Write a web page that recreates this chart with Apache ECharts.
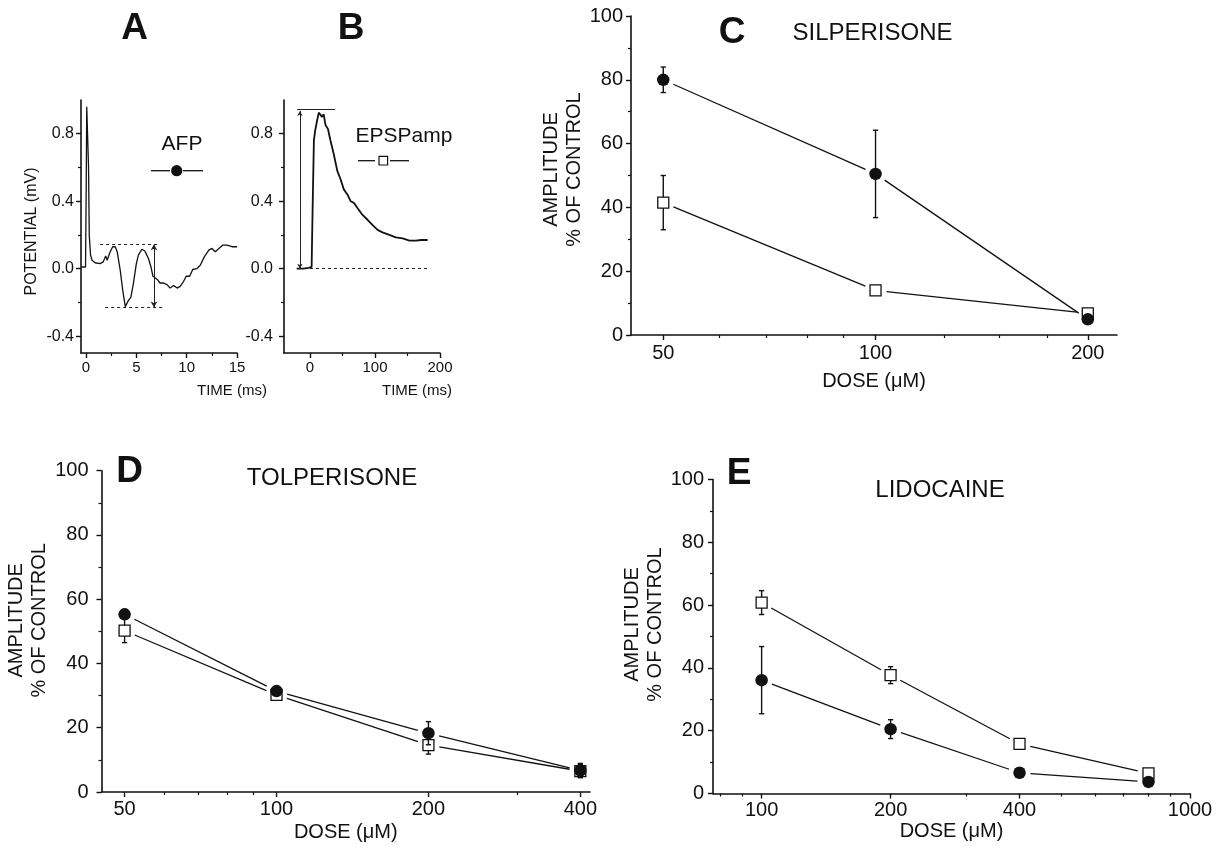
<!DOCTYPE html>
<html>
<head>
<meta charset="utf-8">
<script src="https://cdn.jsdelivr.net/npm/echarts@6/dist/echarts.min.js"></script>
<style>
  html, body { margin: 0; padding: 0; background: #fff; }
  #chart { width: 1219px; height: 847px; }
</style>
</head>
<body>
<div id="chart"></div>
<script>
// ---------- Panel A: field potential trace (time in ms, potential in mV) ----------
const afpTime = [-0.45, -0.05, 0.02, 0.07, 0.18, 0.25, 0.32, 0.45, 0.6, 0.9, 1.4, 1.7, 1.85, 1.95, 2.1, 2.4, 2.65, 2.9, 3.1, 3.4,
  3.65, 3.9, 4.05, 4.2, 4.45, 4.7, 5.0, 5.2, 5.55, 5.85, 6.2, 6.45, 6.65, 6.9, 7.1, 7.35, 7.7, 8.05, 8.35, 8.7,
  9.05, 9.35, 9.7, 9.95, 10.3, 10.6, 11.0, 11.35, 11.75, 12.2, 12.5, 12.85, 13.2, 13.6, 14.0, 14.5, 15.0];
const afpMv = [0.01, 0.01, 0.5, 0.96, 0.96, 0.6, 0.2, 0.08, 0.05, 0.035, 0.03, 0.04, 0.06, 0.075, 0.05, 0.10, 0.13, 0.13, 0.10, -0.01,
  -0.13, -0.225, -0.23, -0.19, -0.17, -0.09, 0.03, 0.08, 0.115, 0.105, 0.06, 0.01, -0.045, -0.055, -0.065, -0.085, -0.085, -0.095, -0.115, -0.10,
  -0.115, -0.105, -0.075, -0.045, -0.045, -0.005, 0.0, 0.02, 0.07, 0.11, 0.12, 0.10, 0.12, 0.14, 0.14, 0.13, 0.13];

// ---------- Panel B: EPSP trace ----------
const epspTime = [-20.5, -10, -2, 2.5, 4, 6, 8, 11, 13.5, 16, 18.5, 21, 24, 27.5, 31.5, 36.5, 42, 47, 52, 57.5,
  62.5, 67.5, 73, 80.5, 88.5, 96, 104, 111.5, 122, 132, 142.5, 153, 163, 171, 181];
const epspMv = [0, 0, 0.005, 0.01, 0.35, 0.76, 0.82, 0.88, 0.925, 0.935, 0.9, 0.915, 0.85, 0.83, 0.76, 0.68, 0.58, 0.53, 0.47, 0.44,
  0.40, 0.39, 0.36, 0.32, 0.29, 0.26, 0.23, 0.215, 0.2, 0.186, 0.18, 0.166, 0.166, 0.17, 0.17];

// ---------- Panels C-E: dose-response, % of control (mean and error) ----------
const silDose = [50, 100, 200];
const silAfp = [80, 50.5, 4.9];
const silAfpErr = [4, 13.7, 0.8];
const silEpsp = [41.5, 14, 6.8];
const silEpspErr = [8.5, 1.5, 0.8];

const tolDose = [50, 100, 200, 400];
const tolAfp = [55.3, 31.4, 18.3, 6.7];
const tolAfpErr = [1.5, 1, 3.6, 2.2];
const tolEpsp = [50.2, 30.2, 14.6, 6.5];
const tolEpspErr = [3.7, 1, 2.8, 2];

const lidDose = [100, 200, 400, 800];
const lidAfp = [36.1, 20.5, 6.6, 3.7];
const lidAfpErr = [10.7, 3, 1.5, 1.2];
const lidEpsp = [60.8, 37.7, 15.8, 6.4];
const lidEpspErr = [3.8, 2.7, 1.5, 1.2];

// ---------- tick labels ----------
const mvTicks = [-0.4, 0, 0.4, 0.8];
const mvMinor = [-0.2, 0.2, 0.6];
const timeTicksA = [0, 5, 10, 15];
const timeMinorA = [2.5, 7.5, 12.5];
const timeTicksB = [0, 100, 200];
const timeMinorB = [50, 150];
const doseTicksC = [50, 100, 200];
const doseMinorC = [60, 70, 80, 90, 125, 150, 175];
const doseTicksD = [50, 100, 200, 400];
const doseMinorD = [60, 70, 80, 90, 300];
const doseTicksE = [100, 200, 400, 1000];
const doseMinorE = [80, 90, 300, 500, 600, 700, 800, 900];

const FONT = '"Liberation Sans", Arial, Helvetica, sans-serif';
const INK = '#111';
const lg = Math.log10;
const GAP = 11;            // blank space left between a connecting line and a marker centre

// ---------- axis builders ----------
function xPair(grid, min, max, major, minor, fmt, fs, margin, extra) {
  const main = Object.assign({
    type: 'value', gridIndex: grid, min: min, max: max, position: 'bottom',
    axisLine: { show: true, onZero: false, lineStyle: { color: INK, width: 1.6 } },
    axisTick: { show: true, customValues: major, length: 5, lineStyle: { color: INK, width: 1.4 } },
    axisLabel: { show: true, customValues: major, formatter: fmt, fontSize: fs, margin: margin, color: INK, fontFamily: FONT },
    splitLine: { show: false }
  }, extra || {});
  const sub = {
    type: 'value', gridIndex: grid, min: min, max: max, position: 'bottom',
    axisLine: { show: false, onZero: false },
    axisTick: { show: true, customValues: minor, length: 3, lineStyle: { color: INK, width: 1.2 } },
    axisLabel: { show: false },
    splitLine: { show: false }
  };
  return [main, sub];
}

function yTracePair(grid, margin, name) {
  const main = {
    type: 'value', gridIndex: grid, min: -0.5, max: 1.0, position: 'left',
    axisLine: { show: true, onZero: false, lineStyle: { color: INK, width: 1.6 } },
    axisTick: { show: true, customValues: mvTicks, length: 5, lineStyle: { color: INK, width: 1.4 } },
    axisLabel: { show: true, customValues: mvTicks, formatter: v => v.toFixed(1), fontSize: 16, margin: margin, color: INK, fontFamily: FONT },
    splitLine: { show: false }
  };
  if (name) {
    Object.assign(main, {
      name: name, nameLocation: 'middle', nameRotate: 90, nameGap: 41,
      nameTextStyle: { fontSize: 16, color: INK, fontFamily: FONT, padding: [0, 10, 0, 0] }
    });
  }
  const sub = {
    type: 'value', gridIndex: grid, min: -0.5, max: 1.0, position: 'left',
    axisLine: { show: false, onZero: false },
    axisTick: { show: true, customValues: mvMinor, length: 3, lineStyle: { color: INK, width: 1.2 } },
    axisLabel: { show: false },
    splitLine: { show: false }
  };
  return [main, sub];
}

function yDosePair(grid, margin, lift) {
  const main = {
    type: 'value', gridIndex: grid, min: 0, max: 100, interval: 20, position: 'left',
    axisLine: { show: true, onZero: false, lineStyle: { color: INK, width: 1.6 } },
    axisTick: { show: true, length: 5, lineStyle: { color: INK, width: 1.4 } },
    minorTick: { show: true, splitNumber: 2, length: 3, lineStyle: { color: INK, width: 1.2 } },
    axisLabel: { fontSize: 20, margin: margin, color: INK, fontFamily: FONT },
    splitLine: { show: false }, minorSplitLine: { show: false },
    name: 'AMPLITUDE\n% OF CONTROL', nameLocation: 'middle', nameRotate: 90, nameGap: 44,
    nameTextStyle: { fontSize: 20, lineHeight: 23, color: INK, fontFamily: FONT, padding: [0, 0, 0, lift] }
  };
  const unused = { type: 'value', gridIndex: grid, min: 0, max: 100, show: false };
  return [main, unused];
}

const doseFmt = v => String(Math.round(Math.pow(10, v)));
function doseName(gap) {
  return {
    name: 'DOSE (\u03bcM)', nameLocation: 'middle', nameGap: gap,
    nameTextStyle: { fontSize: 20, color: INK, fontFamily: FONT }
  };
}

const xAxes = [].concat(
  xPair(0, -0.5, 15, timeTicksA, timeMinorA, v => String(v), 15, 7),
  xPair(1, -40, 200, timeTicksB, timeMinorB, v => String(v), 15, 7),
  xPair(2, lg(45), lg(220), doseTicksC.map(lg), doseMinorC.map(lg), doseFmt, 20, 8, doseName(36)),
  xPair(3, lg(45), lg(418), doseTicksD.map(lg), doseMinorD.map(lg), doseFmt, 20, 7, doseName(30)),
  xPair(4, lg(77), lg(1000), doseTicksE.map(lg), doseMinorE.map(lg), doseFmt, 20, 7, doseName(28))
);
const yAxes = [].concat(
  yTracePair(0, 7, 'POTENTIAL (mV)'),
  yTracePair(1, 11, null),
  yDosePair(2, 8, 12),
  yDosePair(3, 13, 22),
  yDosePair(4, 9, 24)
);

// ---------- dose-response series: connecting segments, error bars, markers ----------
function segRender(params, api) {
  const p1 = api.coord([api.value(0), api.value(1)]);
  const p2 = api.coord([api.value(2), api.value(3)]);
  const dx = p2[0] - p1[0], dy = p2[1] - p1[1];
  const L = Math.hypot(dx, dy);
  if (L <= 2 * GAP) return null;
  const ux = dx / L, uy = dy / L;
  return {
    type: 'line',
    shape: { x1: p1[0] + ux * GAP, y1: p1[1] + uy * GAP, x2: p2[0] - ux * GAP, y2: p2[1] - uy * GAP },
    style: { stroke: INK, lineWidth: 1.3 }
  };
}
function errRender(params, api) {
  const x = api.value(0), y = api.value(1), e = api.value(2);
  const top = api.coord([x, y + e]);
  const bot = api.coord([x, y - e]);
  const cw = 2.6;
  const st = { stroke: INK, lineWidth: 1.4 };
  return {
    type: 'group',
    children: [
      { type: 'line', shape: { x1: top[0], y1: top[1], x2: bot[0], y2: bot[1] }, style: st },
      { type: 'line', shape: { x1: top[0] - cw, y1: top[1], x2: top[0] + cw, y2: top[1] }, style: st },
      { type: 'line', shape: { x1: bot[0] - cw, y1: bot[1], x2: bot[0] + cw, y2: bot[1] }, style: st }
    ]
  };
}

function doseSeries(grid, doses, vals, errs, kind) {
  const xs = doses.map(lg);
  const pts = xs.map((x, i) => [x, vals[i], errs[i]]);
  const segs = [];
  for (let i = 0; i < xs.length - 1; i++) segs.push([xs[i], vals[i], xs[i + 1], vals[i + 1]]);
  const ax = { xAxisIndex: 2 * grid, yAxisIndex: 2 * grid };
  const filled = kind === 'circle';
  return [
    Object.assign({ type: 'custom', z: 2, silent: true, clip: false, data: segs,
      encode: { x: [0, 2], y: [1, 3] }, renderItem: segRender }, ax),
    Object.assign({ type: 'custom', z: filled ? 5 : 3, silent: true, clip: false, data: pts,
      encode: { x: 0, y: 1 }, renderItem: errRender }, ax),
    Object.assign({ type: 'scatter', z: filled ? 6 : 4, silent: true,
      data: pts.map(p => [p[0], p[1]]),
      symbol: filled ? 'circle' : 'rect', symbolSize: filled ? 12.5 : 11,
      itemStyle: filled ? { color: INK, opacity: 1 } : { color: '#fff', borderColor: INK, borderWidth: 1.3, opacity: 1 }
    }, ax)
  ];
}

// ---------- trace series with measurement marks ----------
const traceA = {
  type: 'line', xAxisIndex: 0, yAxisIndex: 0, showSymbol: false, silent: true, smooth: false,
  data: afpTime.map((t, i) => [t, afpMv[i]]),
  lineStyle: { color: INK, width: 1.3 },
  markLine: {
    silent: true, symbol: 'none', label: { show: false }, animation: false,
    lineStyle: { color: '#222', width: 1, type: [3, 3] },
    data: [
      [{ coord: [1.4, 0.145] }, { coord: [7.25, 0.145] }],
      [{ coord: [1.9, -0.23] }, { coord: [7.6, -0.23] }],
      [{ coord: [6.75, 0.145], symbol: 'arrow', symbolSize: [5, 6], lineStyle: { type: 'solid' } },
       { coord: [6.75, -0.23], symbol: 'arrow', symbolSize: [5, 6] }]
    ]
  }
};
const traceB = {
  type: 'line', xAxisIndex: 2, yAxisIndex: 2, showSymbol: false, silent: true,
  data: epspTime.map((t, i) => [t, epspMv[i]]),
  lineStyle: { color: INK, width: 1.8 },
  markLine: {
    silent: true, symbol: 'none', label: { show: false }, animation: false,
    lineStyle: { color: '#222', width: 1, type: [3, 3] },
    data: [
      [{ coord: [-19.6, 0.945], lineStyle: { type: 'solid' } }, { coord: [38.8, 0.945] }],
      [{ coord: [-15.5, 0.0], symbol: 'arrow', symbolSize: [4, 5], lineStyle: { type: 'solid' } },
       { coord: [-15.5, 0.935], symbol: 'arrow', symbolSize: [4, 5] }],
      [{ coord: [0, 0] }, { coord: [180, 0] }]
    ]
  }
};

const series = [traceA, traceB].concat(
  doseSeries(2, silDose, silEpsp, silEpspErr, 'square'),
  doseSeries(2, silDose, silAfp, silAfpErr, 'circle'),
  doseSeries(3, tolDose, tolEpsp, tolEpspErr, 'square'),
  doseSeries(3, tolDose, tolAfp, tolAfpErr, 'circle'),
  doseSeries(4, lidDose, lidEpsp, lidEpspErr, 'square'),
  doseSeries(4, lidDose, lidAfp, lidAfpErr, 'circle')
);

// ---------- text and legend keys ----------
function txt(x, y, s, size, weight, align) {
  return {
    type: 'text', x: x, y: y, silent: true, z: 10,
    style: { text: s, fontSize: size, fontWeight: weight || 'normal', fontFamily: FONT, fill: INK,
      align: align || 'center', verticalAlign: 'middle' }
  };
}
function hline(x1, x2, y) {
  return { type: 'line', silent: true, z: 10, shape: { x1: x1, y1: y, x2: x2, y2: y }, style: { stroke: INK, lineWidth: 1.3 } };
}

const graphics = [
  txt(134.5, 29, 'A', 37, 'bold'),
  txt(351, 29, 'B', 37, 'bold'),
  txt(732, 33, 'C', 37, 'bold'),
  txt(129.5, 471.5, 'D', 37, 'bold'),
  txt(739, 474, 'E', 37, 'bold'),
  txt(872.5, 33, 'SILPERISONE', 24),
  txt(332, 478, 'TOLPERISONE', 24),
  txt(940, 490.5, 'LIDOCAINE', 24),
  txt(267, 391, 'TIME (ms)', 15, 'normal', 'right'),
  txt(452, 391, 'TIME (ms)', 15, 'normal', 'right'),
  txt(182, 144, 'AFP', 21),
  txt(404, 136, 'EPSPamp', 21),
  hline(151, 170, 170.7),
  { type: 'circle', silent: true, z: 10, shape: { cx: 176.7, cy: 170.7, r: 5.6 }, style: { fill: INK } },
  hline(183, 203, 170.7),
  hline(358, 375, 160.7),
  { type: 'rect', silent: true, z: 10, shape: { x: 379, y: 156.4, width: 8.6, height: 8.6 }, style: { fill: '#fff', stroke: INK, lineWidth: 1.2 } },
  hline(390, 409, 160.7)
];

const chart = echarts.init(document.getElementById('chart'), null, { renderer: 'canvas' });
chart.setOption({
  animation: false,
  backgroundColor: '#ffffff',
  textStyle: { fontFamily: FONT },
  grid: [
    { left: 81, top: 100, width: 156, height: 253, outerBoundsMode: 'none' },
    { left: 284, top: 100, width: 156, height: 253, outerBoundsMode: 'none' },
    { left: 631, top: 16, width: 486, height: 319, outerBoundsMode: 'none' },
    { left: 101.5, top: 470.7, width: 488.5, height: 321.3, outerBoundsMode: 'none' },
    { left: 713, top: 479.5, width: 477, height: 314, outerBoundsMode: 'none' }
  ],
  xAxis: xAxes,
  yAxis: yAxes,
  series: series,
  graphic: graphics
});
</script>
</body>
</html>
